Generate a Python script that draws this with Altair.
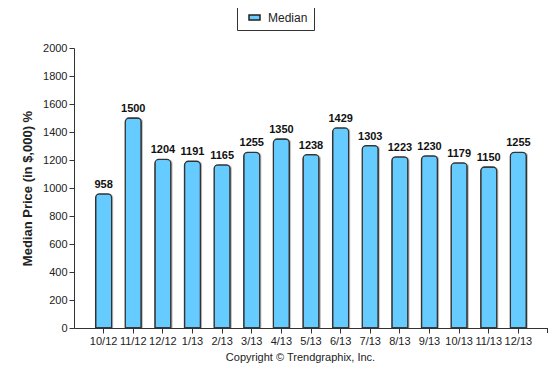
import altair as alt
import pandas as pd

months = ["10/12", "11/12", "12/12", "1/13", "2/13", "3/13", "4/13", "5/13",
          "6/13", "7/13", "8/13", "9/13", "10/13", "11/13", "12/13"]
median = [958, 1500, 1204, 1191, 1165, 1255, 1350, 1238,
          1429, 1303, 1223, 1230, 1179, 1150, 1255]

df = pd.DataFrame({"month": months, "value": median, "series": ["Median"] * len(months)})

FONT = "Liberation Sans"

x = alt.X("month:N", sort=months,
          scale=alt.Scale(paddingInner=0.46, paddingOuter=0.73),
          axis=alt.Axis(title="Copyright © Trendgraphix, Inc.", labelAngle=0,
                        labelFontSize=11, labelColor="#222", labelFont=FONT,
                        titleFont=FONT, titleFontSize=11, titleFontWeight="normal",
                        titleColor="#222", titlePadding=5, titleX=226,
                        domainColor="#333", tickColor="#333", tickSize=5,
                        labelPadding=2, grid=False))
y = alt.Y("value:Q", scale=alt.Scale(domain=[0, 2000]),
          axis=alt.Axis(title="Median Price (in $,000) %", values=list(range(0, 2001, 200)),
                        format="d",
                        grid=False, labelFontSize=11, labelColor="#222", labelFont=FONT,
                        titleFont=FONT, titleFontSize=13, titleFontWeight="bold",
                        titleColor="#222", titlePadding=8,
                        domainColor="#333", tickColor="#333", tickSize=5))

base = alt.Chart(df)

shadow = base.mark_bar(color="#bbbbbb", cornerRadiusTopLeft=4, cornerRadiusTopRight=4,
                       xOffset=2, opacity=0.8).encode(x=x, y=y)

bars = base.mark_bar(stroke="#333333", strokeWidth=1.3,
                     cornerRadiusTopLeft=4, cornerRadiusTopRight=4).encode(
    x=x, y=y,
    color=alt.Color("series:N", scale=alt.Scale(range=["#66ccff"]),
                    legend=alt.Legend(title=None, orient="none", legendX=163, legendY=-43,
                                      symbolType="M-1,-0.45L1,-0.45L1,0.45L-1,0.45Z",
                                      symbolSize=121, symbolStrokeColor="#222",
                                      symbolStrokeWidth=1.5, symbolOpacity=1,
                                      symbolOffset=5,
                                      labelFont=FONT, labelFontSize=12, labelColor="#222",
                                      labelOffset=7,
                                      strokeColor="#333", fillColor="white",
                                      padding=6, cornerRadius=0))
)

labels = base.mark_text(dy=-9, fontWeight="bold", fontSize=11, font=FONT, color="#111").encode(
    x=x, y=y, text="value:Q")

endtick = base.mark_rule(color="#333").encode(
    x=alt.value(474), y=alt.value(280), y2=alt.value(285))

chart = alt.layer(shadow, bars, labels, endtick).properties(
    width=474, height=280,
    autosize=alt.AutoSizeParams(type="none"),
    padding={"left": 66, "top": 40, "right": 0, "bottom": 40},
).configure(background="white").configure_view(stroke="transparent", strokeWidth=0)

chart.save("out.html", embed_options={"renderer": "svg", "actions": False})
